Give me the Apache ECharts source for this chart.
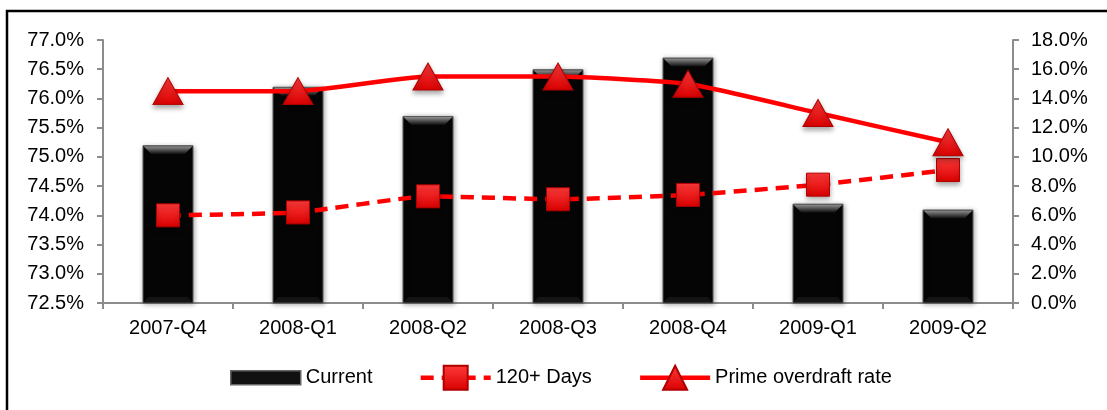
<!DOCTYPE html>
<html>
<head>
<meta charset="utf-8">
<script src="https://cdn.jsdelivr.net/npm/echarts@6/dist/echarts.min.js"></script>
<style>
  html, body { margin: 0; padding: 0; background: #fff; }
  #chart { width: 1107px; height: 410px; }
</style>
</head>
<body>
<div id="chart"></div>
<script>
// Quarterly overdraft figures
const quarters = ['2007-Q4', '2008-Q1', '2008-Q2', '2008-Q3', '2008-Q4', '2009-Q1', '2009-Q2'];
const currentShare = [75.2, 76.2, 75.7, 76.5, 76.7, 74.2, 74.1];       // left axis, %
const days120 = [6.0, 6.2, 7.3, 7.1, 7.4, 8.1, 9.1];                   // right axis, %
const primeOverdraft = [14.5, 14.5, 15.5, 15.5, 15.0, 13.0, 11.0];     // right axis, %
const leftTicks = { min: 72.5, max: 77.0, step: 0.5 };
const rightTicks = { min: 0, max: 18, step: 2 };

const FONT = 'Liberation Sans, Arial, sans-serif';
const FONT_SIZE = 20;
const AXIS_GREY = '#8c8c8c';
const BAR_WIDTH = 51;
const LINE_WIDTH = 4.5;
const DASH = [13, 8];

const chart = echarts.init(document.getElementById('chart'), null, { renderer: 'canvas' });

const redFill = new echarts.graphic.LinearGradient(0, 0, 0, 1, [
  { offset: 0, color: '#ff3a3a' },
  { offset: 1, color: '#d80000' }
]);

// Bevelled cap drawn on top of each bar
function renderBevel(params, api) {
  const top = api.coord([api.value(0), api.value(1)]);
  const base = api.coord([api.value(0), leftTicks.min]);
  const hw = BAR_WIDTH / 2;
  const x = top[0], y = top[1];
  const d = 9;
  return {
    type: 'group',
    children: [
      {
        type: 'polygon',
        shape: { points: [[x - hw + 1, y + 1], [x + hw - 1, y + 1], [x + hw - d, y + d], [x - hw + d, y + d]] },
        style: {
          fill: new echarts.graphic.LinearGradient(0, 0, 0, 1, [
            { offset: 0, color: '#909090' },
            { offset: 1, color: '#0c0c0c' }
          ])
        }
      },
      {
        type: 'polygon',
        shape: { points: [[x - hw + 1, base[1] - 1], [x + hw - 1, base[1] - 1], [x + hw - 6, base[1] - 6], [x - hw + 6, base[1] - 6]] },
        style: { fill: '#141414' }
      }
    ]
  };
}

// Legend swatch for the bars: a flat slab, padded so it sits shorter than the line icons
const barLegendIcon = 'path://M0,0 L0.01,0 M0,30 L0.01,30 M0,8 L70,8 L70,22 L0,22 Z';

const option = {
  animation: false,
  backgroundColor: '#fff',
  textStyle: { fontFamily: FONT },
  grid: { left: 103, right: 94, top: 40, bottom: 107, containLabel: false },
  legend: {
    left: 230,
    top: 362,
    padding: 0,
    itemWidth: 70,
    itemHeight: 30,
    itemGap: 46,
    textStyle: { fontSize: FONT_SIZE, color: '#000', fontFamily: FONT },
    data: [
      { name: 'Current', icon: barLegendIcon, itemStyle: { color: '#111', borderColor: '#666', borderWidth: 1.5 } },
      { name: '120+ Days', lineStyle: { width: LINE_WIDTH, type: DASH, color: '#ff0000' } },
      { name: 'Prime overdraft rate', lineStyle: { width: LINE_WIDTH, color: '#ff0000' } }
    ]
  },
  xAxis: {
    type: 'category',
    data: quarters,
    boundaryGap: true,
    axisLine: { lineStyle: { color: AXIS_GREY, width: 2 } },
    axisTick: { show: true, length: 6, lineStyle: { color: AXIS_GREY, width: 2 } },
    axisLabel: { color: '#000', fontSize: FONT_SIZE, fontFamily: FONT, margin: 15 }
  },
  yAxis: [
    {
      type: 'value',
      min: leftTicks.min,
      max: leftTicks.max,
      interval: leftTicks.step,
      splitLine: { show: false },
      axisLine: { show: true, lineStyle: { color: AXIS_GREY, width: 2 } },
      axisTick: { show: true, length: 6, lineStyle: { color: AXIS_GREY, width: 2 } },
      axisLabel: { color: '#000', fontSize: FONT_SIZE, fontFamily: FONT, margin: 19, formatter: v => v.toFixed(1) + '%' }
    },
    {
      type: 'value',
      min: rightTicks.min,
      max: rightTicks.max,
      interval: rightTicks.step,
      splitLine: { show: false },
      axisLine: { show: true, lineStyle: { color: AXIS_GREY, width: 2 } },
      axisTick: { show: true, length: 6, lineStyle: { color: AXIS_GREY, width: 2 } },
      axisLabel: { color: '#000', fontSize: FONT_SIZE, fontFamily: FONT, margin: 18, formatter: v => v.toFixed(1) + '%' }
    }
  ],
  series: [
    {
      name: 'Current',
      type: 'bar',
      yAxisIndex: 0,
      data: currentShare,
      barWidth: BAR_WIDTH,
      itemStyle: {
        color: '#050505',
        borderColor: '#5a5a5a',
        borderWidth: 1,
        shadowBlur: 5,
        shadowColor: 'rgba(0,0,0,0.35)',
        shadowOffsetX: 1,
        shadowOffsetY: 1
      },
      z: 1
    },
    {
      name: 'bevel',
      type: 'custom',
      yAxisIndex: 0,
      data: quarters.map((q, i) => [i, currentShare[i]]),
      renderItem: renderBevel,
      silent: true,
      z: 2
    },
    {
      name: '120+ Days',
      type: 'line',
      yAxisIndex: 1,
      data: days120,
      smooth: 0.15,
      symbol: 'rect',
      symbolSize: 23,
      lineStyle: { color: '#ff0000', width: LINE_WIDTH, type: DASH },
      itemStyle: {
        color: redFill,
        borderColor: '#b00000',
        borderWidth: 1,
        shadowBlur: 5,
        shadowColor: 'rgba(0,0,0,0.35)',
        shadowOffsetY: 3
      },
      z: 5
    },
    {
      name: 'Prime overdraft rate',
      type: 'line',
      yAxisIndex: 1,
      data: primeOverdraft,
      smooth: 0.15,
      symbol: 'triangle',
      symbolSize: [30, 27],
      lineStyle: { color: '#ff0000', width: LINE_WIDTH },
      itemStyle: {
        color: redFill,
        borderColor: '#b00000',
        borderWidth: 1,
        shadowBlur: 5,
        shadowColor: 'rgba(0,0,0,0.35)',
        shadowOffsetY: 3
      },
      z: 6
    }
  ],
  graphic: [
    {
      type: 'rect',
      shape: { x: 7, y: 11, width: 1130, height: 440 },
      style: { fill: 'none', stroke: '#000', lineWidth: 2.5 },
      silent: true,
      z: 100
    }
  ]
};

chart.setOption(option);
</script>
</body>
</html>
